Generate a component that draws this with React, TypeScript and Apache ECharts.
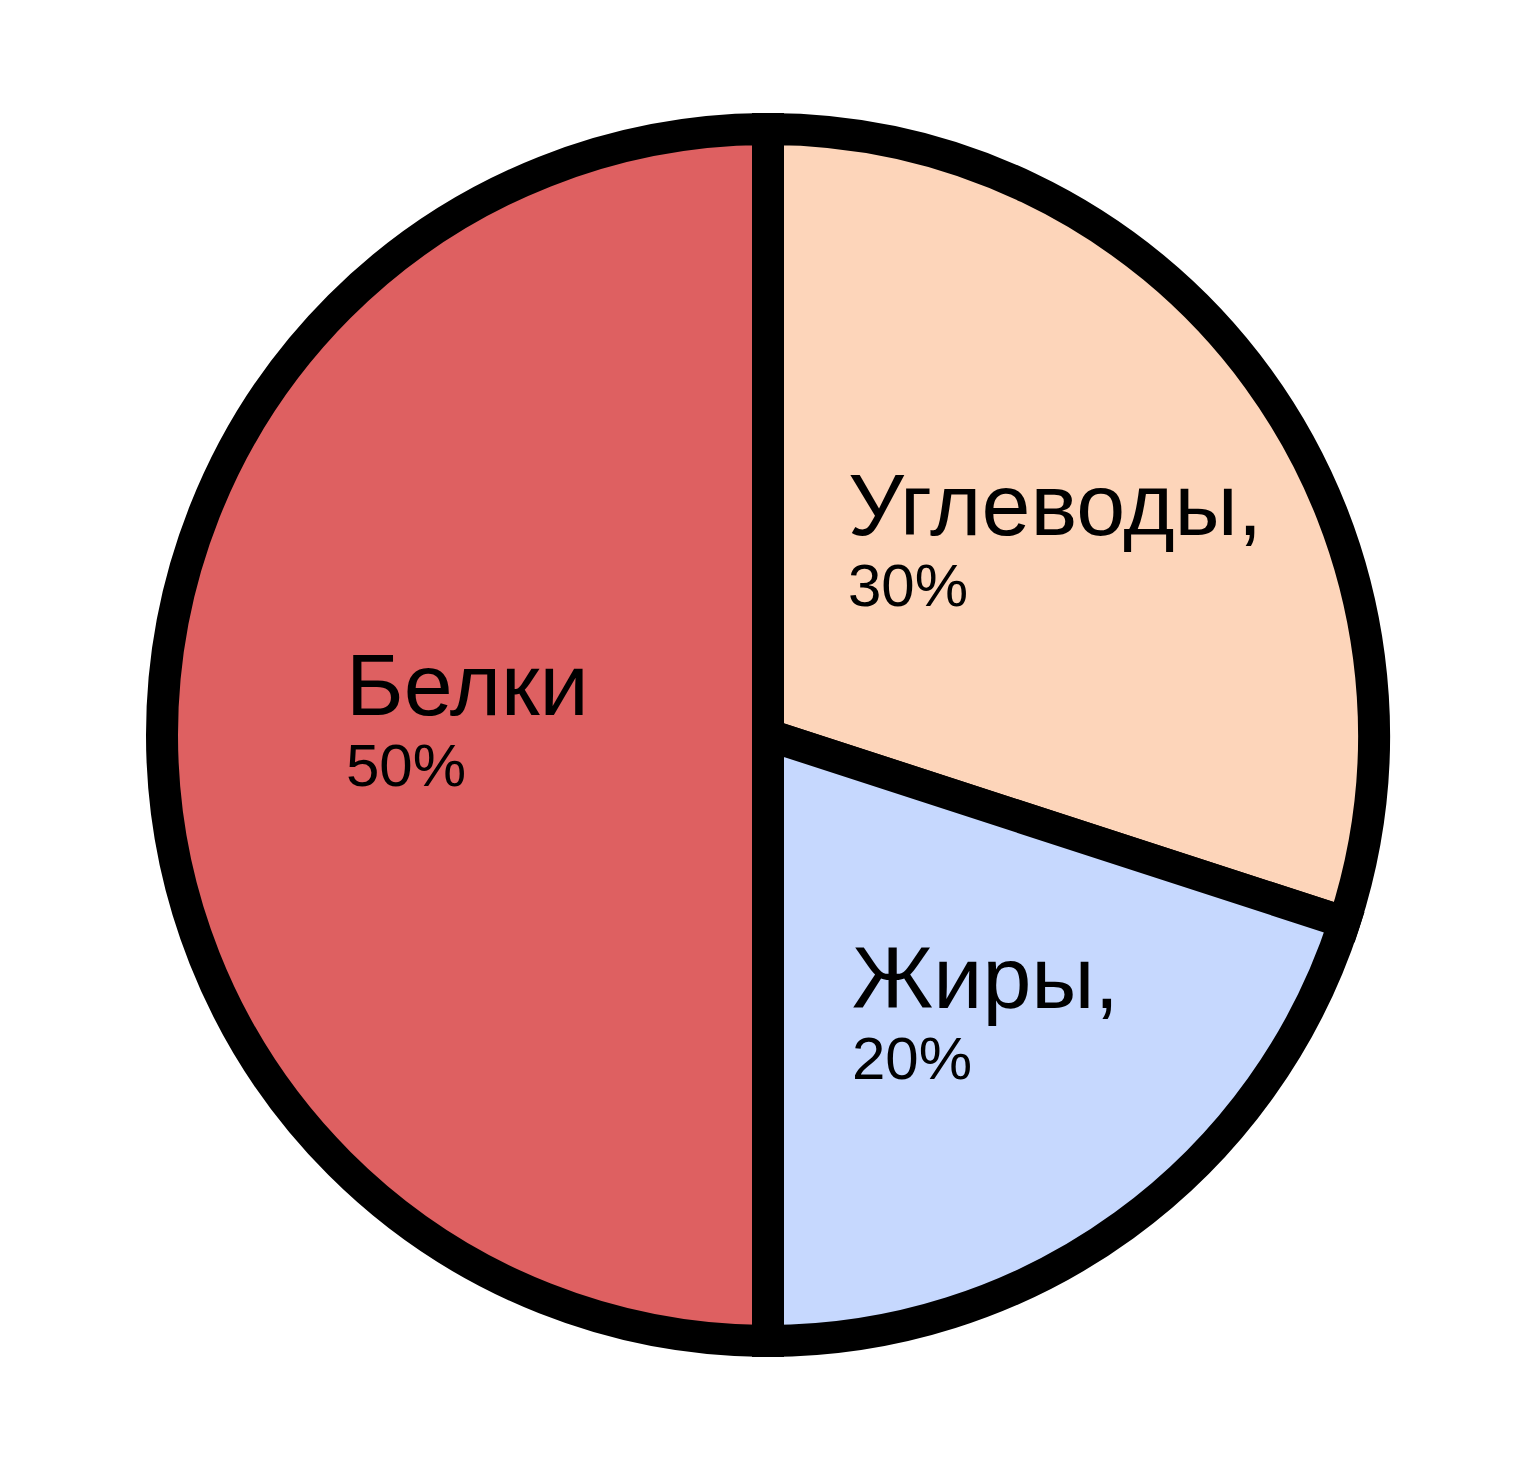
import React, { useEffect, useRef } from "react";
import * as echarts from "echarts";

const categories = ["Углеводы", "Жиры", "Белки"];
const values = [30, 20, 50];
const colors = ["#FDD5BA", "#C6D8FE", "#DE6061"];
// label anchor positions (top-left of each label block), in px
const labelAnchors: [number, number][] = [
  [848, 460],
  [852, 933],
  [346, 640],
];

export default function App() {
  const ref = useRef<HTMLDivElement>(null);
  useEffect(() => {
    document.body.style.margin = "0";
    const chart = echarts.init(ref.current!, null, { renderer: "svg" });
    chart.setOption({
      animation: false,
      backgroundColor: "#ffffff",
      series: [
        {
          type: "pie",
          center: [768, 735],
          radius: 606,
          startAngle: 90,
          clockwise: true,
          silent: true,
          data: categories.map((c, i) => ({
            name: c,
            value: values[i],
            itemStyle: { color: colors[i] },
          })),
          itemStyle: { borderColor: "#000000", borderWidth: 32, borderJoin: "miter" },
          label: {
            show: true,
            position: "inside",
            fontFamily: "Liberation Sans",
            color: "#000000",
            formatter: (p: any) =>
              `{n|${p.name}${p.dataIndex < 2 ? "," : ""}}\n{p|${p.value}%}`,
            rich: {
              n: { fontSize: 88, lineHeight: 88, fontFamily: "Liberation Sans", color: "#000", align: "left" },
              p: { fontSize: 60, lineHeight: 74, fontFamily: "Liberation Sans", color: "#000", align: "left" },
            },
          },
          labelLine: { show: false },
          labelLayout: (params: any) => {
            const a = labelAnchors[params.dataIndex];
            return { x: a[0], y: a[1], align: "left", verticalAlign: "top" };
          },
        },
      ],
    });
    return () => chart.dispose();
  }, []);
  return <div ref={ref} style={{ width: 1538, height: 1470 }} />;
}
